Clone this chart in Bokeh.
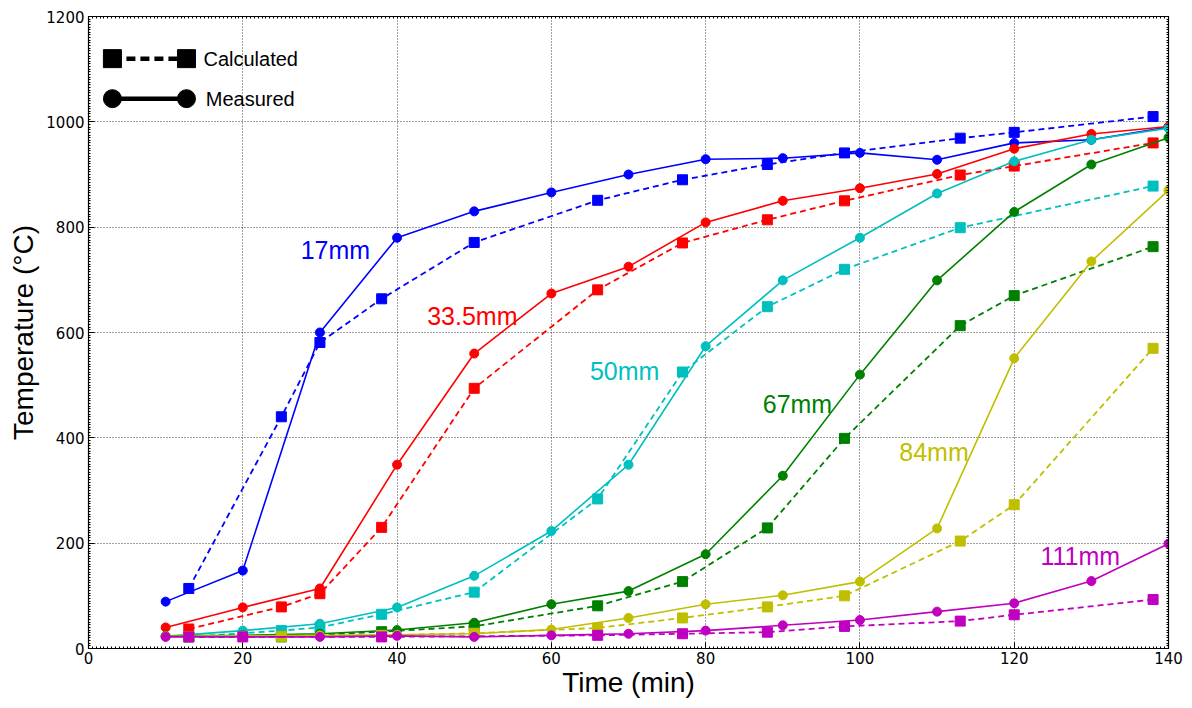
from bokeh.plotting import figure
from bokeh.embed import file_html
from bokeh.resources import INLINE
from bokeh.models import Range1d, FixedTicker, Label, LinearAxis

# ---------------- data ----------------
colors = ["#0000ff", "#ff0000", "#00bfbf", "#008000", "#bfbf00", "#bf00bf"]
names = ["17mm", "33.5mm", "50mm", "67mm", "84mm", "111mm"]

meas_t = [
    [10, 20, 30, 40, 50, 60, 70, 80, 90, 100, 110, 120, 130, 140],
    [10, 20, 30, 40, 50, 60, 70, 80, 90, 100, 110, 120, 130, 140],
    [10, 20, 30, 40, 50, 60, 70, 80, 90, 100, 110, 120, 130, 140],
    [10, 20, 30, 40, 50, 60, 70, 80, 90, 100, 110, 120, 130, 140],
    [10, 20, 30, 40, 50, 60, 70, 80, 90, 100, 110, 120, 130, 140],
    [10, 20, 30, 40, 50, 60, 70, 80, 90, 100, 110, 120, 130, 140],
]
meas_T = [
    [89, 148, 600, 780, 830, 866, 900, 929, 931, 941, 928, 960, 966, 990],
    [40, 78, 114, 349, 560, 674, 725, 809, 850, 874, 901, 949, 977, 991],
    [23, 34, 47, 78, 138, 223, 349, 574, 699, 780, 864, 925, 966, 988],
    [24, 25, 28, 35, 49, 84, 109, 179, 328, 520, 699, 829, 919, 970],
    [23, 24, 25, 26, 28, 36, 58, 84, 101, 127, 228, 551, 735, 870],
    [22, 22, 22, 24, 22, 25, 28, 34, 44, 54, 70, 86, 128, 199],
]

calc_t = [
    [13, 25, 30, 38, 50, 66, 77, 88, 98, 113, 120, 138],
    [13, 25, 30, 38, 50, 66, 77, 88, 98, 113, 120, 138],
    [13, 25, 30, 38, 50, 66, 77, 88, 98, 113, 138],
    [13, 25, 38, 50, 66, 77, 88, 98, 113, 120, 138],
    [13, 25, 38, 50, 66, 77, 88, 98, 113, 120, 138],
    [13, 20, 38, 66, 77, 88, 98, 113, 120, 138],
]
calc_T = [
    [114, 440, 581, 664, 771, 851, 890, 919, 941, 969, 980, 1010],
    [37, 79, 104, 230, 494, 681, 770, 814, 850, 899, 916, 960],
    [22, 34, 40, 65, 107, 284, 525, 649, 720, 799, 878],
    [22, 22, 32, 42, 81, 127, 229, 399, 613, 670, 763],
    [22, 23, 25, 29, 39, 58, 79, 100, 204, 273, 570],
    [22, 22, 22, 25, 28, 31, 42, 52, 64, 93],
]

label_x = [27.5, 43.9, 65.0, 87.4, 105.1, 123.4]
label_y = [756, 632, 526, 465, 374, 175]

x_ticks = [0, 20, 40, 60, 80, 100, 120, 140]
y_ticks = [0, 200, 400, 600, 800, 1000, 1200]

# ---------------- figure ----------------
p = figure(width=1184, height=700, output_backend="svg", toolbar_location=None,
           x_range=Range1d(0, 140), y_range=Range1d(0, 1200),
           min_border_left=88, min_border_right=16, min_border_top=16, min_border_bottom=52)

p.outline_line_color = "black"
p.outline_line_width = 1.2

x_minor = [i * 0.5 for i in range(281)]
y_minor = [i * 5 for i in range(241)]

for ax in (p.xaxis[0], p.yaxis[0]):
    ax.major_tick_in = 6
    ax.major_tick_out = 0
    ax.minor_tick_in = 2
    ax.minor_tick_out = 0
    ax.major_label_text_font = "DejaVu Sans"
    ax.major_label_text_font_size = "15px"
    ax.major_label_text_color = "black"
    ax.axis_label_text_font = "Liberation Sans"
    ax.axis_label_text_font_size = "28px"
    ax.axis_label_text_font_style = "normal"
    ax.axis_label_text_color = "black"
    ax.axis_line_color = "black"

p.xaxis[0].ticker = FixedTicker(ticks=x_ticks, minor_ticks=x_minor)
p.yaxis[0].ticker = FixedTicker(ticks=y_ticks, minor_ticks=y_minor)
p.xaxis[0].axis_label = "Time (min)"
p.yaxis[0].axis_label = "Temperature (°C)"
p.xaxis[0].major_label_standoff = 3
p.yaxis[0].major_label_standoff = 4
p.xaxis[0].axis_label_standoff = 0
p.yaxis[0].axis_label_standoff = 4

# mirrored tick marks on top and right: label-free axes (no major ticks -> no labels)
top = LinearAxis(ticker=FixedTicker(ticks=[], minor_ticks=x_minor))
right = LinearAxis(ticker=FixedTicker(ticks=[], minor_ticks=y_minor))
for ax in (top, right):
    ax.major_tick_in = 0
    ax.major_tick_out = 0
    ax.minor_tick_in = 2
    ax.minor_tick_out = 0
    ax.major_label_standoff = 0
    ax.axis_line_color = "black"
p.add_layout(top, "above")
p.add_layout(right, "right")

p.xgrid.ticker = FixedTicker(ticks=x_ticks)
p.ygrid.ticker = FixedTicker(ticks=y_ticks)
for g in (p.xgrid[0], p.ygrid[0]):
    g.grid_line_color = "black"
    g.grid_line_alpha = 0.75
    g.grid_line_dash = "1 2"
    g.grid_line_width = 1

# ---------------- series ----------------
for i in range(len(names)):
    c = colors[i]
    p.line(calc_t[i], calc_T[i], line_color=c, line_width=1.8, line_dash="6 4")
    p.scatter(calc_t[i], calc_T[i], marker="square", size=10, fill_color=c, line_color=c)
    p.line(meas_t[i], meas_T[i], line_color=c, line_width=1.6)
    p.scatter(meas_t[i], meas_T[i], marker="circle", size=9, fill_color=c, line_color=c)
    p.add_layout(Label(x=label_x[i], y=label_y[i], text=names[i], text_color=c,
                       text_font="Liberation Sans", text_font_size="25px",
                       text_baseline="middle", text_align="left"))

# ---------------- legend (manual) ----------------
leg_x = [3.1, 12.7]
leg_y_calc = [1120, 1120]
leg_y_meas = [1044, 1044]
p.line(leg_x, leg_y_calc, line_color="black", line_width=4.5, line_dash="9 5")
p.scatter(leg_x, leg_y_calc, marker="square", size=18, fill_color="black", line_color="black")
p.line(leg_x, leg_y_meas, line_color="black", line_width=4.5)
p.scatter(leg_x, leg_y_meas, marker="circle", size=18, fill_color="black", line_color="black")
p.add_layout(Label(x=14.9, y=1120, text="Calculated", text_color="black",
                   text_font="Liberation Sans", text_font_size="20px",
                   text_baseline="middle"))
p.add_layout(Label(x=15.2, y=1044, text="Measured", text_color="black",
                   text_font="Liberation Sans", text_font_size="20px",
                   text_baseline="middle"))

open("out.html", "w").write(file_html(p, INLINE))
